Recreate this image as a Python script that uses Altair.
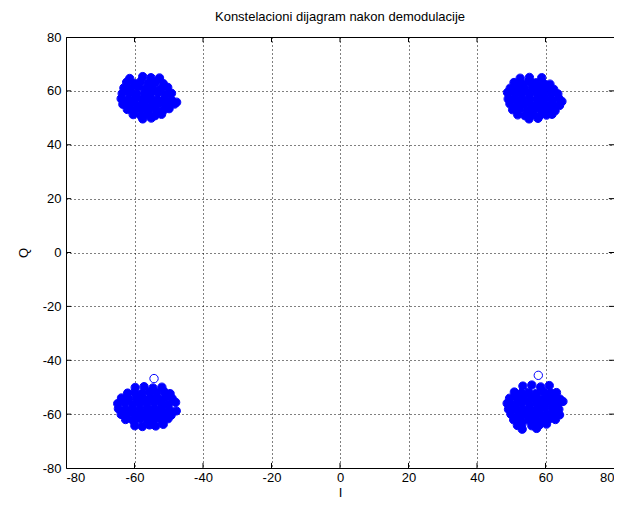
import altair as alt
import pandas as pd

TITLE = "Konstelacioni dijagram nakon demodulacije"
X_TITLE = "I"
Y_TITLE = "Q"
TICKS = [-80, -60, -40, -20, 0, 20, 40, 60, 80]
INNER_TICKS = [-60, -40, -20, 0, 20, 40, 60]

# top-left symbol cloud
TL_I = [-61.4, -57.6, -55.2, -52.7,
        -62.3, -60.1, -58.2, -56.0, -53.9, -51.6,
        -63.1, -61.0, -58.8, -56.7, -54.6, -52.4, -50.3,
        -63.6, -61.5, -59.4, -57.1, -55.2, -53.1, -51.0, -49.2,
        -63.9, -61.8, -59.7, -57.6, -55.5, -53.4, -51.3, -49.2, -47.7,
        -63.4, -61.2, -59.1, -57.0, -54.9, -52.8, -50.7, -48.3,
        -62.1, -60.0, -57.9, -55.8, -53.7, -51.6, -49.9,
        -60.4, -58.2, -56.1, -54.0, -52.1,
        -57.6, -55.1]
TL_Q = [64.6, 65.3, 64.9, 64.8,
        63.2, 62.8, 63.5, 62.9, 63.3, 62.7,
        61.1, 60.8, 61.4, 60.9, 61.2, 60.7, 61.3,
        59.0, 59.3, 58.8, 59.2, 58.9, 59.4, 58.7, 59.1,
        57.1, 56.8, 57.3, 56.9, 57.2, 56.7, 57.0, 56.6, 55.8,
        55.0, 55.3, 54.8, 55.2, 54.9, 55.4, 54.7, 55.1,
        53.1, 52.8, 53.3, 52.9, 53.2, 52.7, 53.4,
        51.2, 50.9, 51.1, 50.8, 51.3,
        49.6, 49.9]

# top-right symbol cloud
TR_I = [52.6, 55.3, 58.9,
        50.8, 52.9, 55.0, 57.2, 59.4, 61.3,
        49.7, 51.8, 53.9, 56.1, 58.3, 60.4, 62.4,
        48.9, 51.0, 53.1, 55.2, 57.4, 59.5, 61.6, 63.6,
        49.1, 51.2, 53.3, 55.5, 57.6, 59.7, 61.8, 63.9, 64.8,
        49.6, 51.7, 53.8, 55.9, 58.0, 60.1, 62.2, 64.1,
        50.4, 52.5, 54.6, 56.7, 58.8, 60.9, 62.8,
        51.9, 54.0, 56.1, 58.2, 60.3, 61.9,
        55.2, 57.8]
TR_Q = [64.7, 65.0, 64.9,
        63.1, 62.7, 63.4, 63.0, 62.8, 62.5,
        61.0, 61.3, 60.8, 61.2, 60.9, 61.1, 60.6,
        59.4, 58.9, 59.2, 58.8, 59.3, 58.7, 59.1, 58.9,
        57.0, 57.3, 56.8, 57.2, 56.9, 57.1, 56.7, 57.2, 56.1,
        55.2, 54.9, 55.3, 54.8, 55.1, 54.7, 55.0, 54.6,
        53.0, 53.3, 52.8, 53.2, 52.9, 53.1, 52.6,
        51.1, 50.8, 51.2, 50.7, 51.0, 51.3,
        49.6, 49.8]

# bottom-left symbol cloud
BL_I = [-59.8, -57.2, -54.6, -52.0,
        -62.0, -59.9, -57.8, -55.6, -53.5, -51.3, -49.6,
        -63.8, -61.7, -59.5, -57.4, -55.3, -53.2, -51.1, -49.0,
        -64.9, -62.8, -60.6, -58.5, -56.4, -54.3, -52.2, -50.1, -48.0,
        -64.7, -62.6, -60.5, -58.4, -56.2, -54.1, -52.0, -49.9, -47.8,
        -63.9, -61.8, -59.7, -57.6, -55.5, -53.4, -51.3, -49.3,
        -62.6, -60.5, -58.4, -56.3, -54.2, -52.1, -50.2,
        -59.9, -57.7, -55.6, -53.8, -51.6]
BL_Q = [-50.1, -49.8, -50.3, -50.0,
        -52.2, -51.9, -52.3, -51.8, -52.1, -51.7, -52.4,
        -54.0, -54.3, -53.8, -54.2, -53.9, -54.1, -53.7, -54.2,
        -56.1, -55.8, -56.3, -55.9, -56.2, -55.7, -56.0, -56.3, -55.6,
        -58.0, -58.3, -57.8, -58.2, -57.9, -58.1, -57.7, -58.2, -58.8,
        -60.1, -59.8, -60.3, -59.9, -60.2, -59.7, -60.0, -60.4,
        -62.0, -62.3, -61.8, -62.2, -61.9, -62.1, -61.7,
        -64.3, -64.6, -64.0, -64.4, -63.8]

# bottom-right symbol cloud
BR_I = [53.4, 56.0, 58.6, 61.1,
        50.9, 53.0, 55.1, 57.3, 59.4, 61.5, 63.2,
        49.5, 51.6, 53.7, 55.8, 58.0, 60.1, 62.2, 64.2,
        48.8, 50.9, 53.0, 55.2, 57.3, 59.4, 61.5, 63.6, 65.1,
        49.2, 51.3, 53.4, 55.5, 57.7, 59.8, 61.9, 63.9,
        49.9, 52.0, 54.1, 56.2, 58.3, 60.4, 62.5, 64.1,
        50.7, 52.8, 54.9, 57.0, 59.1, 61.2, 62.9,
        51.8, 53.1, 56.0, 58.2, 60.3,
        53.2, 57.4]
BR_Q = [-49.6, -49.2, -49.9, -49.4,
        -51.8, -52.2, -51.9, -52.3, -51.7, -52.1, -52.0,
        -54.1, -53.8, -54.2, -53.9, -54.3, -53.7, -54.0, -54.4,
        -56.0, -56.3, -55.8, -56.2, -55.9, -56.1, -55.7, -56.2, -55.3,
        -58.2, -57.9, -58.3, -57.8, -58.1, -57.7, -58.0, -58.2,
        -60.0, -60.3, -59.8, -60.2, -59.9, -60.1, -59.7, -60.3,
        -62.1, -61.8, -62.2, -61.9, -62.3, -61.7, -62.0,
        -64.2, -63.9, -64.3, -64.0, -63.7,
        -65.6, -65.3]

# isolated samples
OUT_I = [-54.3, 57.9]
OUT_Q = [-46.8, -45.6]

FONT = "Liberation Sans"
BLUE = "#0000ff"

cloud = pd.DataFrame({
    "I": TL_I + TR_I + BL_I + BR_I,
    "Q": TL_Q + TR_Q + BL_Q + BR_Q,
})
outl = pd.DataFrame({"I": OUT_I, "Q": OUT_Q})
allpts = pd.concat([cloud, outl], ignore_index=True)
tick_df = pd.DataFrame({"I": INNER_TICKS, "Q": INNER_TICKS})

xscale = alt.Scale(domain=[-80, 80], nice=False, zero=False)
yscale = alt.Scale(domain=[-80, 80], nice=False, zero=False)

LABEL_EXPR = "'' + datum.value"
x_axis = alt.Axis(values=TICKS, title=X_TITLE, grid=True, ticks=False, tickSize=0,
                  domain=False, labelPadding=3, titlePadding=2, labelExpr=LABEL_EXPR)
y_axis = alt.Axis(values=TICKS, title=Y_TITLE, grid=True, ticks=False, tickSize=0,
                  domain=False, labelPadding=5, titlePadding=12, labelExpr=LABEL_EXPR)

X = alt.X("I:Q", scale=xscale, axis=x_axis, title=X_TITLE)
Y = alt.Y("Q:Q", scale=yscale, axis=y_axis, title=Y_TITLE)

fill_layer = alt.Chart(cloud).mark_point(
    shape="circle", filled=True, size=64, color=BLUE, opacity=1
).encode(x=X, y=Y)

ring_layer = alt.Chart(allpts).mark_point(
    shape="circle", filled=False, size=70, color=BLUE, opacity=1, strokeWidth=1
).encode(x=X, y=Y)

tick_bottom = alt.Chart(tick_df).mark_rule(color="black", strokeWidth=1).encode(
    x=X, y=alt.datum(-80), y2=alt.datum(-78.1))
tick_top = alt.Chart(tick_df).mark_rule(color="black", strokeWidth=1).encode(
    x=X, y=alt.datum(80), y2=alt.datum(78.1))
tick_left = alt.Chart(tick_df).mark_rule(color="black", strokeWidth=1).encode(
    y=Y, x=alt.datum(-80), x2=alt.datum(-78.5))
tick_right = alt.Chart(tick_df).mark_rule(color="black", strokeWidth=1).encode(
    y=Y, x=alt.datum(80), x2=alt.datum(78.5))

chart = alt.layer(
    fill_layer, ring_layer, tick_bottom, tick_top, tick_left, tick_right
).properties(
    width=548,
    height=431,
    background="white",
    title=alt.TitleParams(TITLE, fontSize=13, fontWeight="normal", font=FONT,
                          color="black", anchor="middle", offset=7),
    autosize=alt.AutoSizeParams(type="none"),
    padding={"left": 58, "top": 29, "right": 0, "bottom": 32},
).configure_axis(
    labelFont=FONT, labelFontSize=13, labelColor="black",
    titleFont=FONT, titleFontSize=13, titleFontWeight="normal", titleColor="black",
    gridColor="black", gridOpacity=1, gridDash=[1, 3], gridWidth=1,
).configure_view(
    stroke="#000000", strokeWidth=1, strokeOpacity=1
)

chart.save("out.html", embed_options={"renderer": "svg", "actions": False})
